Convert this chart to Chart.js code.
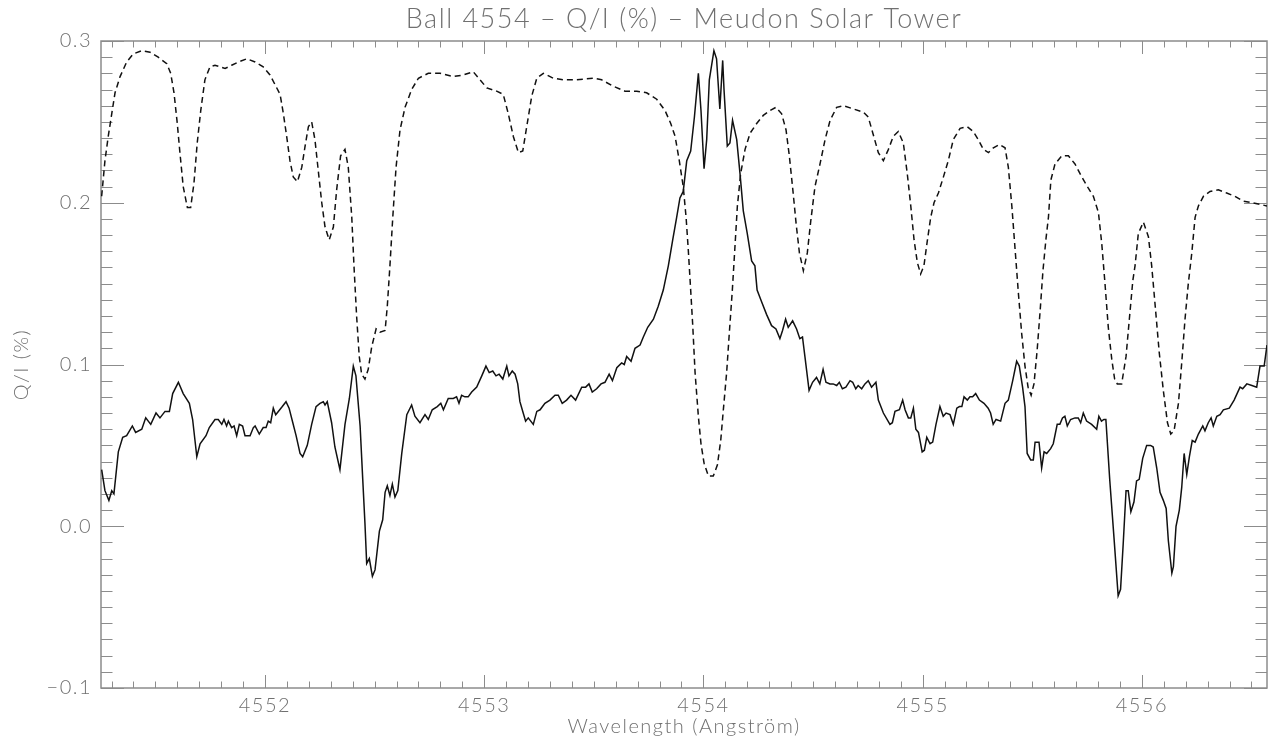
<!DOCTYPE html>
<html>
<head>
<meta charset="utf-8">
<title>Ball 4554 – Q/I (%) – Meudon Solar Tower</title>
<script src="https://cdn.jsdelivr.net/npm/chart.js@4.4.1/dist/chart.umd.min.js"></script>
<style>
  html, body { margin: 0; padding: 0; background: #ffffff; }
  canvas { display: block; }
</style>
</head>
<body>
<canvas id="plot" width="1270" height="742"></canvas>
<script>
// Linear polarisation Q/I (%) across the Ba II 4554 line
const qiWave = [
  4551.255, 4551.270, 4551.288, 4551.301, 4551.311, 4551.331, 4551.351, 4551.369, 4551.395, 4551.410,
  4551.438, 4551.456, 4551.479, 4551.503, 4551.521, 4551.544, 4551.564, 4551.579, 4551.605, 4551.627,
  4551.655, 4551.670, 4551.689, 4551.704, 4551.731, 4551.746, 4551.772, 4551.787, 4551.803, 4551.813,
  4551.825, 4551.833, 4551.848, 4551.859, 4551.871, 4551.883, 4551.898, 4551.909, 4551.932, 4551.947,
  4551.955, 4551.974, 4551.992, 4552.005, 4552.015, 4552.026, 4552.038, 4552.049, 4552.061, 4552.079,
  4552.096, 4552.110, 4552.127, 4552.142, 4552.160, 4552.172, 4552.193, 4552.213, 4552.233, 4552.251,
  4552.266, 4552.274, 4552.284, 4552.304, 4552.319, 4552.342, 4552.365, 4552.385, 4552.403, 4552.415,
  4552.434, 4552.446, 4552.456, 4552.464, 4552.476, 4552.490, 4552.502, 4552.522, 4552.537, 4552.548,
  4552.558, 4552.570, 4552.581, 4552.593, 4552.606, 4552.624, 4552.647, 4552.669, 4552.684, 4552.707,
  4552.730, 4552.745, 4552.763, 4552.786, 4552.802, 4552.814, 4552.836, 4552.859, 4552.874, 4552.885,
  4552.897, 4552.912, 4552.927, 4552.943, 4552.966, 4552.989, 4553.008, 4553.023, 4553.039, 4553.054,
  4553.068, 4553.085, 4553.103, 4553.113, 4553.128, 4553.141, 4553.153, 4553.163, 4553.178, 4553.189,
  4553.201, 4553.224, 4553.240, 4553.255, 4553.277, 4553.300, 4553.323, 4553.338, 4553.356, 4553.376,
  4553.396, 4553.417, 4553.445, 4553.463, 4553.478, 4553.493, 4553.513, 4553.533, 4553.551, 4553.570,
  4553.585, 4553.605, 4553.627, 4553.639, 4553.650, 4553.670, 4553.688, 4553.711, 4553.726, 4553.746,
  4553.772, 4553.794, 4553.817, 4553.840, 4553.860, 4553.878, 4553.893, 4553.908, 4553.924, 4553.942,
  4553.959, 4553.977, 4553.989, 4554.003, 4554.015, 4554.027, 4554.048, 4554.060, 4554.075, 4554.088,
  4554.094, 4554.109, 4554.121, 4554.133, 4554.152, 4554.167, 4554.182, 4554.200, 4554.220, 4554.235,
  4554.245, 4554.265, 4554.288, 4554.311, 4554.331, 4554.349, 4554.361, 4554.375, 4554.387, 4554.407,
  4554.425, 4554.440, 4554.452, 4554.463, 4554.482, 4554.498, 4554.516, 4554.531, 4554.546, 4554.559,
  4554.577, 4554.592, 4554.608, 4554.620, 4554.634, 4554.650, 4554.669, 4554.681, 4554.695, 4554.706,
  4554.722, 4554.737, 4554.752, 4554.767, 4554.787, 4554.798, 4554.821, 4554.851, 4554.862, 4554.874,
  4554.894, 4554.909, 4554.920, 4554.935, 4554.946, 4554.958, 4554.969, 4554.981, 4554.998, 4555.008,
  4555.019, 4555.034, 4555.046, 4555.061, 4555.079, 4555.094, 4555.107, 4555.125, 4555.140, 4555.156,
  4555.168, 4555.179, 4555.189, 4555.204, 4555.216, 4555.228, 4555.242, 4555.259, 4555.280, 4555.299,
  4555.310, 4555.322, 4555.335, 4555.356, 4555.376, 4555.391, 4555.411, 4555.429, 4555.441, 4555.456,
  4555.467, 4555.477, 4555.493, 4555.505, 4555.513, 4555.531, 4555.543, 4555.554, 4555.566, 4555.584,
  4555.596, 4555.614, 4555.626, 4555.638, 4555.649, 4555.660, 4555.675, 4555.695, 4555.710, 4555.721,
  4555.733, 4555.748, 4555.771, 4555.794, 4555.804, 4555.816, 4555.827, 4555.836, 4555.854, 4555.873,
  4555.892, 4555.903, 4555.915, 4555.928, 4555.938, 4555.950, 4555.964, 4555.976, 4555.988, 4556.004,
  4556.022, 4556.040, 4556.052, 4556.068, 4556.083, 4556.098, 4556.111, 4556.121, 4556.137, 4556.144,
  4556.156, 4556.171, 4556.182, 4556.193, 4556.205, 4556.217, 4556.230, 4556.243, 4556.258, 4556.278,
  4556.288, 4556.303, 4556.316, 4556.326, 4556.342, 4556.357, 4556.372, 4556.399, 4556.421, 4556.448,
  4556.460, 4556.479, 4556.502, 4556.524, 4556.539, 4556.558, 4556.571
];
const qiValue = [
  0.035, 0.022, 0.016, 0.022, 0.020, 0.046, 0.055, 0.056, 0.062, 0.058,
  0.060, 0.067, 0.063, 0.070, 0.067, 0.071, 0.071, 0.082, 0.089, 0.082,
  0.076, 0.066, 0.043, 0.051, 0.056, 0.061, 0.066, 0.066, 0.063, 0.066,
  0.062, 0.065, 0.061, 0.062, 0.056, 0.063, 0.062, 0.056, 0.056, 0.061,
  0.062, 0.057, 0.061, 0.061, 0.065, 0.064, 0.073, 0.069, 0.071, 0.074,
  0.077, 0.073, 0.064, 0.056, 0.045, 0.043, 0.050, 0.063, 0.074, 0.076,
  0.077, 0.075, 0.077, 0.064, 0.049, 0.035, 0.063, 0.079, 0.099, 0.093,
  0.062, 0.029, 0.002, -0.023, -0.020, -0.031, -0.027, -0.003, 0.004, 0.021,
  0.025, 0.019, 0.026, 0.018, 0.022, 0.045, 0.069, 0.075, 0.068, 0.064,
  0.069, 0.066, 0.072, 0.074, 0.076, 0.072, 0.079, 0.079, 0.080, 0.076,
  0.081, 0.080, 0.080, 0.083, 0.086, 0.093, 0.099, 0.095, 0.096, 0.093,
  0.094, 0.091, 0.099, 0.093, 0.096, 0.094, 0.088, 0.077, 0.070, 0.065,
  0.067, 0.063, 0.071, 0.072, 0.076, 0.078, 0.081, 0.081, 0.076, 0.078,
  0.081, 0.078, 0.086, 0.086, 0.088, 0.083, 0.085, 0.088, 0.089, 0.094,
  0.090, 0.098, 0.101, 0.100, 0.105, 0.102, 0.110, 0.112, 0.117, 0.123,
  0.128, 0.136, 0.146, 0.161, 0.177, 0.191, 0.203, 0.207, 0.226, 0.232,
  0.253, 0.280, 0.257, 0.221, 0.239, 0.276, 0.294, 0.289, 0.258, 0.288,
  0.270, 0.235, 0.237, 0.251, 0.239, 0.218, 0.195, 0.181, 0.164, 0.161,
  0.146, 0.139, 0.131, 0.124, 0.122, 0.116, 0.121, 0.128, 0.123, 0.127,
  0.122, 0.116, 0.117, 0.105, 0.084, 0.089, 0.092, 0.088, 0.097, 0.089,
  0.088, 0.088, 0.087, 0.089, 0.085, 0.086, 0.090, 0.089, 0.085, 0.087,
  0.085, 0.088, 0.090, 0.086, 0.089, 0.078, 0.070, 0.063, 0.064, 0.071,
  0.072, 0.078, 0.072, 0.067, 0.067, 0.073, 0.060, 0.058, 0.046, 0.047,
  0.055, 0.051, 0.052, 0.063, 0.074, 0.068, 0.070, 0.069, 0.063, 0.073,
  0.074, 0.074, 0.080, 0.078, 0.080, 0.080, 0.082, 0.078, 0.076, 0.073,
  0.070, 0.063, 0.066, 0.065, 0.076, 0.078, 0.090, 0.102, 0.099, 0.086,
  0.074, 0.045, 0.041, 0.041, 0.052, 0.052, 0.036, 0.046, 0.045, 0.048,
  0.051, 0.063, 0.063, 0.067, 0.068, 0.062, 0.066, 0.067, 0.067, 0.064,
  0.070, 0.065, 0.063, 0.060, 0.068, 0.065, 0.066, 0.066, 0.028, -0.007,
  -0.043, -0.039, -0.011, 0.022, 0.022, 0.009, 0.015, 0.028, 0.029, 0.042,
  0.050, 0.050, 0.049, 0.036, 0.021, 0.016, 0.011, -0.009, -0.029, -0.025,
  0.000, 0.010, 0.024, 0.045, 0.032, 0.043, 0.053, 0.052, 0.057, 0.062,
  0.059, 0.064, 0.067, 0.062, 0.068, 0.069, 0.072, 0.073, 0.078, 0.086,
  0.085, 0.088, 0.087, 0.086, 0.099, 0.099, 0.112
];

// Intensity profile, rescaled onto the Q/I axis (dashed)
const profileWave = [
  4551.255, 4551.270, 4551.285, 4551.301, 4551.316, 4551.339, 4551.369, 4551.399, 4551.438, 4551.476,
  4551.513, 4551.552, 4551.570, 4551.585, 4551.600, 4551.612, 4551.627, 4551.646, 4551.661, 4551.676,
  4551.691, 4551.707, 4551.726, 4551.749, 4551.772, 4551.795, 4551.818, 4551.848, 4551.878, 4551.917,
  4551.955, 4551.992, 4552.023, 4552.046, 4552.069, 4552.084, 4552.099, 4552.114, 4552.129, 4552.148,
  4552.168, 4552.183, 4552.198, 4552.213, 4552.228, 4552.243, 4552.259, 4552.274, 4552.293, 4552.312,
  4552.327, 4552.345, 4552.365, 4552.380, 4552.396, 4552.406, 4552.418, 4552.430, 4552.441, 4552.456,
  4552.471, 4552.487, 4552.507, 4552.525, 4552.548, 4552.558, 4552.570, 4552.583, 4552.598, 4552.616,
  4552.639, 4552.669, 4552.700, 4552.745, 4552.799, 4552.859, 4552.905, 4552.950, 4552.981, 4553.012,
  4553.057, 4553.087, 4553.110, 4553.133, 4553.156, 4553.176, 4553.194, 4553.217, 4553.240, 4553.270,
  4553.315, 4553.361, 4553.422, 4553.498, 4553.536, 4553.589, 4553.642, 4553.696, 4553.741, 4553.787,
  4553.825, 4553.851, 4553.871, 4553.890, 4553.908, 4553.921, 4553.931, 4553.942, 4553.951, 4553.962,
  4553.977, 4553.989, 4554.003, 4554.023, 4554.045, 4554.064, 4554.079, 4554.091, 4554.106, 4554.118,
  4554.132, 4554.144, 4554.155, 4554.170, 4554.190, 4554.213, 4554.243, 4554.273, 4554.304, 4554.331,
  4554.357, 4554.377, 4554.392, 4554.408, 4554.423, 4554.438, 4554.456, 4554.474, 4554.490, 4554.509,
  4554.532, 4554.555, 4554.578, 4554.608, 4554.638, 4554.684, 4554.730, 4554.752, 4554.773, 4554.798,
  4554.821, 4554.844, 4554.866, 4554.889, 4554.912, 4554.930, 4554.946, 4554.961, 4554.976, 4554.991,
  4555.006, 4555.022, 4555.037, 4555.052, 4555.072, 4555.095, 4555.117, 4555.140, 4555.171, 4555.204,
  4555.231, 4555.254, 4555.277, 4555.300, 4555.323, 4555.350, 4555.376, 4555.391, 4555.407, 4555.422,
  4555.437, 4555.452, 4555.467, 4555.481, 4555.495, 4555.508, 4555.522, 4555.536, 4555.549, 4555.563,
  4555.574, 4555.585, 4555.604, 4555.635, 4555.665, 4555.695, 4555.726, 4555.756, 4555.779, 4555.802,
  4555.817, 4555.832, 4555.847, 4555.863, 4555.876, 4555.888, 4555.908, 4555.928, 4555.943, 4555.959,
  4555.969, 4555.984, 4556.007, 4556.030, 4556.045, 4556.065, 4556.079, 4556.098, 4556.117, 4556.132,
  4556.147, 4556.167, 4556.182, 4556.197, 4556.212, 4556.228, 4556.243, 4556.258, 4556.281, 4556.311,
  4556.349, 4556.387, 4556.425, 4556.463, 4556.502, 4556.539, 4556.571
];
const profileValue = [
  0.204, 0.226, 0.241, 0.255, 0.268, 0.278, 0.287, 0.292, 0.294, 0.293,
  0.290, 0.286, 0.280, 0.268, 0.249, 0.231, 0.210, 0.197, 0.197, 0.212,
  0.237, 0.257, 0.276, 0.284, 0.285, 0.284, 0.283, 0.285, 0.287, 0.289,
  0.287, 0.284, 0.279, 0.273, 0.267, 0.255, 0.241, 0.226, 0.216, 0.213,
  0.222, 0.235, 0.247, 0.250, 0.239, 0.220, 0.200, 0.185, 0.177, 0.185,
  0.208, 0.229, 0.233, 0.222, 0.191, 0.161, 0.130, 0.105, 0.094, 0.091,
  0.097, 0.111, 0.122, 0.120, 0.121, 0.136, 0.161, 0.191, 0.222, 0.245,
  0.259, 0.270, 0.277, 0.280, 0.280, 0.278, 0.279, 0.281, 0.276, 0.271,
  0.269, 0.267, 0.255, 0.241, 0.231, 0.232, 0.247, 0.266, 0.277, 0.280,
  0.277, 0.276, 0.276, 0.277, 0.276, 0.272, 0.269, 0.269, 0.268, 0.264,
  0.257, 0.249, 0.241, 0.226, 0.210, 0.191, 0.171, 0.146, 0.125, 0.095,
  0.068, 0.051, 0.039, 0.031, 0.031, 0.038, 0.053, 0.072, 0.095, 0.119,
  0.146, 0.173, 0.198, 0.218, 0.233, 0.243, 0.249, 0.254, 0.257, 0.259,
  0.255, 0.245, 0.229, 0.208, 0.187, 0.169, 0.158, 0.169, 0.189, 0.210,
  0.224, 0.239, 0.251, 0.259, 0.260, 0.258, 0.256, 0.253, 0.243, 0.231,
  0.226, 0.233, 0.241, 0.244, 0.237, 0.218, 0.198, 0.177, 0.163, 0.156,
  0.161, 0.177, 0.191, 0.200, 0.206, 0.216, 0.226, 0.239, 0.246, 0.247,
  0.244, 0.239, 0.233, 0.231, 0.234, 0.236, 0.234, 0.222, 0.198, 0.171,
  0.144, 0.119, 0.099, 0.086, 0.081, 0.088, 0.108, 0.133, 0.158, 0.178,
  0.191, 0.214, 0.224, 0.229, 0.229, 0.224, 0.216, 0.209, 0.204, 0.194,
  0.175, 0.150, 0.123, 0.103, 0.091, 0.088, 0.088, 0.105, 0.128, 0.152,
  0.161, 0.181, 0.188, 0.179, 0.161, 0.130, 0.108, 0.084, 0.064, 0.057,
  0.059, 0.076, 0.101, 0.128, 0.150, 0.169, 0.191, 0.198, 0.204, 0.207,
  0.208, 0.206, 0.204, 0.201, 0.200, 0.199, 0.198
];

// Axis extents and labelled ticks
const xRange = [4551.252, 4556.571];
const yRange = [-0.1, 0.3];
const xTickValues = [4552, 4553, 4554, 4555, 4556];
const yTickValues = [-0.1, 0.0, 0.1, 0.2, 0.3];

const AXIS_COLOR = '#8c8c8c';
const TEXT_COLOR = '#707070';
const LINE_COLOR = '#111111';
const FONT_FAMILY = 'Lato, "Liberation Sans", "DejaVu Sans", sans-serif';
const labelFont = { family: FONT_FAMILY, size: 20, weight: '300' };

// Boxed frame with inward-pointing major/minor ticks on all four sides
const frameTicks = {
  id: 'frameTicks',
  beforeDatasetsDraw(chart) {
    const { ctx, chartArea: a, scales: { x, y } } = chart;
    ctx.save();
    ctx.strokeStyle = AXIS_COLOR;
    ctx.lineWidth = 1;
    ctx.beginPath();
    const xk0 = Math.ceil(x.min * 10 - 1e-6), xk1 = Math.floor(x.max * 10 + 1e-6);
    for (let k = xk0; k <= xk1; k++) {
      const px = Math.round(x.getPixelForValue(k / 10)) + 0.5;
      const len = (k % 10 === 0) ? 13 : 6.5;
      ctx.moveTo(px, a.bottom); ctx.lineTo(px, a.bottom - len);
      ctx.moveTo(px, a.top); ctx.lineTo(px, a.top + len);
    }
    const yk0 = Math.ceil(y.min * 100 - 1e-6), yk1 = Math.floor(y.max * 100 + 1e-6);
    for (let k = yk0; k <= yk1; k++) {
      const py = Math.round(y.getPixelForValue(k / 100)) + 0.5;
      const len = (k % 10 === 0) ? 23 : 11.5;
      ctx.moveTo(a.left, py); ctx.lineTo(a.left + len, py);
      ctx.moveTo(a.right, py); ctx.lineTo(a.right - len, py);
    }
    ctx.stroke();
    ctx.lineWidth = 1.5;
    ctx.strokeRect(a.left, a.top, a.right - a.left, a.bottom - a.top);
    ctx.restore();
  }
};

// Slightly open letter spacing for all labels
const textSpacing = {
  id: 'textSpacing',
  beforeDraw(chart) { chart.ctx.letterSpacing = '1.5px'; },
  afterDraw(chart) { chart.ctx.letterSpacing = '0px'; }
};

const toPoints = (xs, ys) => xs.map((w, i) => ({ x: w, y: ys[i] }));

new Chart(document.getElementById('plot'), {
  type: 'line',
  data: {
    datasets: [
      {
        label: 'Q/I',
        data: toPoints(qiWave, qiValue),
        borderColor: LINE_COLOR,
        borderWidth: 1.5,
        pointRadius: 0,
        tension: 0,
        fill: false
      },
      {
        label: 'Intensity',
        data: toPoints(profileWave, profileValue),
        borderColor: LINE_COLOR,
        borderWidth: 1.5,
        borderDash: [6, 4],
        pointRadius: 0,
        tension: 0,
        fill: false
      }
    ]
  },
  options: {
    responsive: false,
    animation: false,
    devicePixelRatio: 1,
    layout: { padding: { left: 0, right: 3, top: 0, bottom: 0 } },
    plugins: {
      legend: { display: false },
      tooltip: { enabled: false },
      title: {
        display: true,
        fullSize: false,
        text: 'Ball 4554 \u2013 Q/I (%) \u2013 Meudon Solar Tower',
        color: TEXT_COLOR,
        font: { family: FONT_FAMILY, size: 27, weight: '300' },
        padding: { top: 3, bottom: 5.6 }
      }
    },
    scales: {
      x: {
        type: 'linear',
        min: xRange[0],
        max: xRange[1],
        afterBuildTicks: (s) => { s.ticks = xTickValues.map(v => ({ value: v })); },
        afterFit: (s) => { s.height = 54; },
        grid: { display: false, drawTicks: false },
        border: { display: false },
        ticks: {
          color: TEXT_COLOR, font: labelFont, padding: 6,
          maxRotation: 0, autoSkip: false,
          callback: (v) => String(v)
        },
        title: {
          display: true, text: 'Wavelength (Angstr\u00f6m)',
          color: TEXT_COLOR, font: labelFont, padding: { top: 0, bottom: 3 }
        }
      },
      y: {
        type: 'linear',
        min: yRange[0],
        max: yRange[1],
        afterBuildTicks: (s) => { s.ticks = yTickValues.map(v => ({ value: v })); },
        afterFit: (s) => { s.width = 101; },
        grid: { display: false, drawTicks: false },
        border: { display: false },
        ticks: {
          color: TEXT_COLOR, font: labelFont, padding: 9,
          callback: (v) => (v < -1e-9 ? '\u2212' : '') + Math.abs(v).toFixed(1)
        },
        title: {
          display: true, text: 'Q/I (%)',
          color: TEXT_COLOR, font: labelFont, padding: { top: 10, bottom: 0 }
        }
      }
    }
  },
  plugins: [textSpacing, frameTicks]
});
</script>
</body>
</html>
